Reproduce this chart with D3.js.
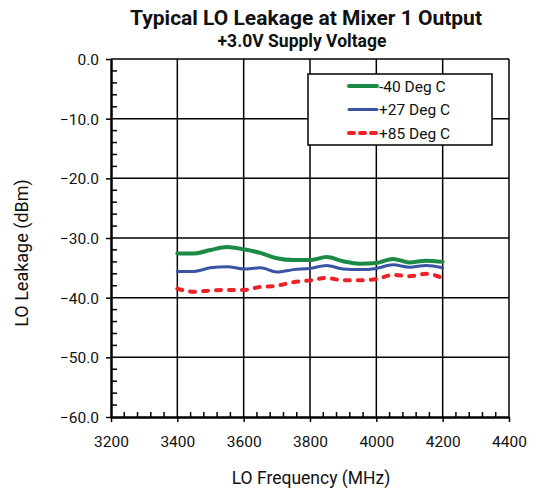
<!DOCTYPE html>
<html>
<head>
<meta charset="utf-8">
<script src="https://cdn.jsdelivr.net/npm/d3@7"></script>
<style>
  html, body { margin: 0; padding: 0; background: #fff; }
  svg { display: block; font-family: Roboto, "Liberation Sans", sans-serif; }
</style>
</head>
<body>
<svg id="chart" width="535" height="493"></svg>
<script>
// LO frequency points (MHz)
const freqs = [3400, 3450, 3500, 3550, 3600, 3650, 3700, 3750, 3800, 3850, 3900, 3950, 4000, 4050, 4100, 4150, 4200];
// LO leakage (dBm) per temperature
const leakM40 = [-32.6, -32.6, -32.0, -31.5, -31.9, -32.5, -33.4, -33.7, -33.7, -33.2, -33.9, -34.3, -34.2, -33.5, -34.1, -33.8, -34.0];
const leakP27 = [-35.6, -35.6, -35.0, -34.8, -35.2, -35.0, -35.7, -35.3, -35.1, -34.6, -35.2, -35.3, -35.1, -34.5, -34.9, -34.6, -35.0];
const leakP85 = [-38.5, -39.0, -38.8, -38.7, -38.7, -38.2, -38.0, -37.4, -37.1, -36.7, -37.1, -37.1, -36.9, -36.2, -36.4, -36.0, -36.7];
const seriesNames = ["-40 Deg C", "+27 Deg C", "+85 Deg C"];
const xTicks = [3200, 3400, 3600, 3800, 4000, 4200, 4400];
const yTicks = [0, -10, -20, -30, -40, -50, -60];

const series = [
  { name: seriesNames[0], values: leakM40, color: "#1b8a44", width: 4, dash: null, legendDash: null },
  { name: seriesNames[1], values: leakP27, color: "#3a54a4", width: 3, dash: null, legendDash: null },
  { name: seriesNames[2], values: leakP85, color: "#ec2229", width: 4, dash: "5,8", legendDash: "5,6" }
];

const svg = d3.select("#chart");
const L = 111, R = 509, T = 59, B = 417;

const x = d3.scaleLinear().domain([3200, 4400]).range([L, R]);
const y = d3.scaleLinear().domain([-60, 0]).range([B, T]);

// major grid
const grid = svg.append("g").attr("stroke", "#000").attr("stroke-width", 1.5);
grid.selectAll("line.v").data(xTicks.slice(1)).join("line")
  .attr("x1", d => x(d)).attr("x2", d => x(d)).attr("y1", T).attr("y2", B);
grid.selectAll("line.h").data(yTicks.slice(0, -1)).join("line")
  .attr("x1", L).attr("x2", R).attr("y1", d => y(d)).attr("y2", d => y(d));

// minor ticks, pointing into the plot
const xMinor = d3.range(3200, 4400.1, 40).filter(v => v % 200 !== 0);
const yMinor = d3.range(-60, 0.1, 2).filter(v => v % 10 !== 0);
const minor = svg.append("g").attr("stroke", "#000").attr("stroke-width", 1.5);
minor.selectAll("line.xm").data(xMinor).join("line")
  .attr("x1", d => x(d)).attr("x2", d => x(d)).attr("y1", B).attr("y2", B - 5);
minor.selectAll("line.ym").data(yMinor).join("line")
  .attr("x1", L).attr("x2", L + 6).attr("y1", d => y(d)).attr("y2", d => y(d));

// axes
const xAxis = svg.append("g").attr("transform", `translate(0,${B})`)
  .call(d3.axisBottom(x).tickValues(xTicks).tickFormat(d3.format("d")).tickSize(5).tickSizeOuter(0));
const yAxis = svg.append("g").attr("transform", `translate(${L},0)`)
  .call(d3.axisLeft(y).tickValues(yTicks).tickFormat(d3.format(".1f")).tickSize(5).tickSizeOuter(0));
[xAxis, yAxis].forEach(a => {
  a.select(".domain").attr("stroke", "#000").attr("stroke-width", 2.5);
  a.selectAll(".tick line").attr("stroke", "#000").attr("stroke-width", 1.5);
  a.selectAll(".tick text").attr("fill", "#111").attr("font-size", 15.5)
    .attr("font-family", "Roboto, sans-serif");
});
xAxis.selectAll(".tick text").attr("dy", null).attr("y", 29.5);
yAxis.selectAll(".tick text").attr("x", -12).attr("dy", "0.36em");

// data lines
const line = d3.line()
  .x((d, i) => x(freqs[i]))
  .y(d => y(d))
  .curve(d3.curveMonotoneX);
svg.append("g").selectAll("path").data(series.slice().reverse()).join("path")
  .attr("d", d => line(d.values))
  .attr("fill", "none")
  .attr("stroke", d => d.color)
  .attr("stroke-width", d => d.width)
  .attr("stroke-linecap", "round")
  .attr("stroke-linejoin", "round")
  .attr("stroke-dasharray", d => d.dash);

// legend
const lg = svg.append("g");
lg.append("rect").attr("x", 308).attr("y", 74).attr("width", 184).attr("height", 71)
  .attr("fill", "#fff").attr("stroke", "#000").attr("stroke-width", 1.5);
const rows = lg.selectAll("g.row").data(series).join("g")
  .attr("transform", (d, i) => `translate(0,${86 + i * 23.5})`);
rows.append("line").attr("x1", 349).attr("x2", 377).attr("y1", 0).attr("y2", 0)
  .attr("stroke", d => d.color).attr("stroke-width", d => d.width)
  .attr("stroke-linecap", "round").attr("stroke-dasharray", d => d.legendDash);
rows.append("text").attr("x", 379).attr("y", 0).attr("dy", "0.36em")
  .attr("font-size", 15.5).attr("fill", "#111").text(d => d.name);

// titles
svg.append("text").attr("x", 306).attr("y", 25).attr("text-anchor", "middle")
  .attr("font-size", 21).attr("font-weight", "bold").attr("fill", "#111")
  .text("Typical LO Leakage at Mixer 1 Output");
svg.append("text").attr("x", 302).attr("y", 46.5).attr("text-anchor", "middle")
  .attr("font-size", 17.5).attr("font-weight", "bold").attr("fill", "#111")
  .text("+3.0V Supply Voltage");
svg.append("text").attr("x", 311).attr("y", 484).attr("text-anchor", "middle")
  .attr("font-size", 17.5).attr("fill", "#111").text("LO Frequency (MHz)");
svg.append("text").attr("transform", "translate(28,253) rotate(-90)").attr("text-anchor", "middle")
  .attr("font-size", 18).attr("fill", "#111").text("LO Leakage (dBm)");
</script>
</body>
</html>
